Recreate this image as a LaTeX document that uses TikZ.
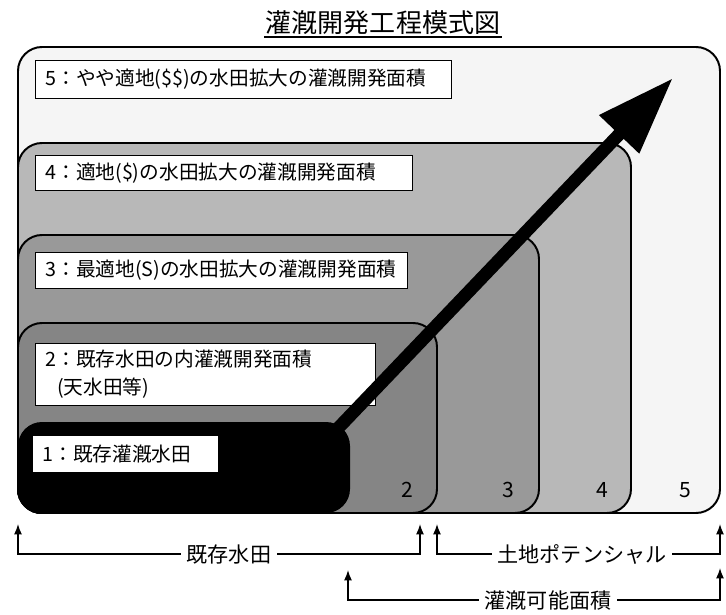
\documentclass[tikz,border=0pt]{standalone}
\usepackage{fontspec}
\setmainfont{Noto Sans CJK JP}
\usetikzlibrary{arrows.meta}
\tikzset{
  area/.style={draw=black, line width=1.4pt, rounded corners=0.6cm},
  lbl/.style={draw, fill=white, line width=0.6pt, anchor=north west, align=left,
    inner xsep=0.25cm, inner ysep=0pt, font=\fontsize{14pt}{20pt}\selectfont},
  num/.style={font=\fontsize{15pt}{18pt}\selectfont},
  bracket/.style={line width=1pt, -{Latex[length=2.6mm,width=2mm]}},
  blbl/.style={inner sep=4pt, font=\fontsize{15pt}{18pt}\selectfont}
}
\begin{document}
\begin{tikzpicture}[x=0.025cm, y=-0.025cm]
  \useasboundingbox (0,0) rectangle (726,614);
  \node[inner sep=1pt, font=\fontsize{18.5pt}{22pt}\selectfont] (title) at (383,23) {灌漑開発工程模式図};
  \draw[line width=0.8pt] (264,37) -- (502,37);

  \filldraw[area, fill=black!4] (18,47) rectangle (720,513);
  \filldraw[area, fill=black!28] (18,143) rectangle (631,513);
  \filldraw[area, fill=black!40] (18,235) rectangle (539,513);
  \filldraw[area, fill=black!48] (18,323) rectangle (437,513);
  \fill[black, rounded corners=0.6cm] (18,422) rectangle (350,513);

  \node[lbl, text width=9.9cm, minimum height=0.95cm] (l5) at (35,60) {5：やや適地(\$\$)の水田拡大の灌漑開発面積};
  \node[lbl, text width=8.93cm, minimum height=0.88cm] (l4) at (35,155) {4：適地(\$)の水田拡大の灌漑開発面積};
  \node[lbl, text width=8.8cm, minimum height=0.9cm] (l3) at (35,252) {3：最適地(S)の水田拡大の灌漑開発面積};
  \node[lbl, text width=8cm, minimum height=1.55cm] (l2) at (35,343) {2：既存水田の内灌漑開発面積\\\hspace*{0.6em}(天水田等)};
  \node[lbl, text width=4.15cm, minimum height=0.93cm] (l1) at (32,435) {1：既存灌漑水田};

  \node[num] (n2) at (407,490) {2};
  \node[num] (n3) at (508,490) {3};
  \node[num] (n4) at (602,490) {4};
  \node[num] (n5) at (685,490) {5};

  \coordinate (grow) at (300,468);
  \coordinate (tip) at (673,78);
  \draw[line width=0.32cm, -{Triangle[length=1.95cm,width=1.3cm]}] (grow) -- (tip);

  \node[blbl] (kizon) at (229,554) {既存水田};
  \coordinate (kizonL) at (18,524);
  \coordinate (kizonR) at (420,524);
  \draw[bracket] (kizon.west) -| (kizonL);
  \draw[bracket] (kizon.east) -| (kizonR);

  \node[blbl] (tochi) at (582,554) {土地ポテンシャル};
  \coordinate (tochiL) at (437,524);
  \coordinate (tochiR) at (720,524);
  \draw[bracket] (tochi.west) -| (tochiL);
  \draw[bracket] (tochi.east) -| (tochiR);

  \node[blbl] (kanno) at (548,600) {灌漑可能面積};
  \coordinate (kannoL) at (348,570);
  \coordinate (kannoR) at (720,568);
  \draw[bracket] (kanno.west) -| (kannoL);
  \draw[bracket] (kanno.east) -| (kannoR);
\end{tikzpicture}
\end{document}
